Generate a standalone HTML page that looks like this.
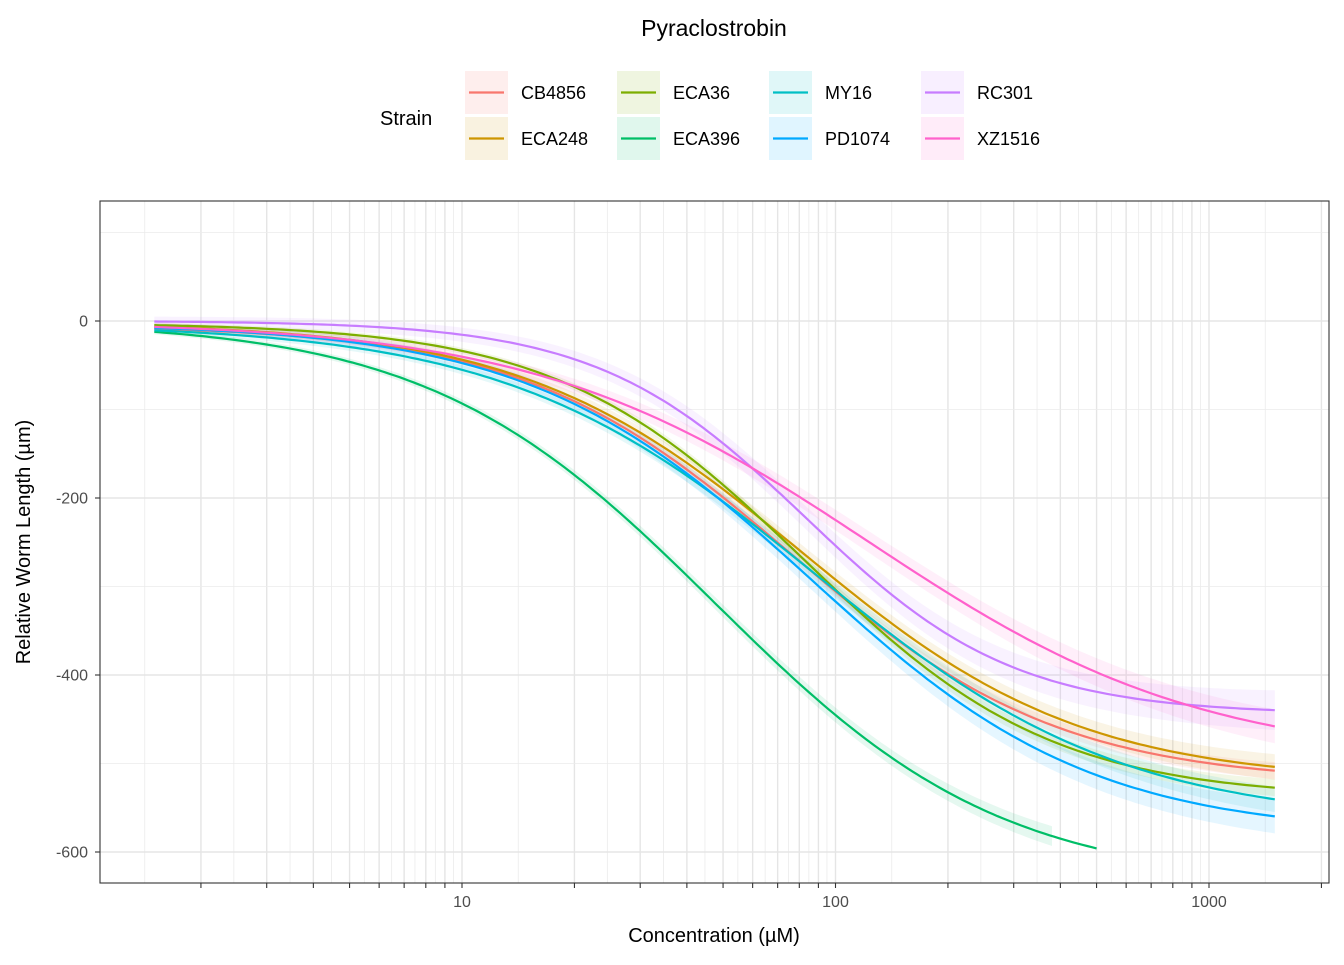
<!DOCTYPE html>
<html><head><meta charset="utf-8"><style>
body{margin:0;background:#fff;}
svg text{font-family:"Liberation Sans",Arial,sans-serif;}
</style></head><body>
<svg id="chart" width="1344" height="960" xmlns="http://www.w3.org/2000/svg">
<text x="714" y="36" font-size="23" text-anchor="middle" fill="#000">Pyraclostrobin</text>
<g id="legend">
<text x="380" y="125" font-size="20" fill="#000">Strain</text>
</g>
<g id="grid"></g>
<g id="ribbons"></g>
<g id="lines"></g>
<rect x="100" y="201" width="1229" height="682" fill="none" stroke="#333" stroke-width="1.1"/>
<g id="axes"></g>
<text x="714" y="942" font-size="20" text-anchor="middle" fill="#000">Concentration (µM)</text>
<text transform="translate(30,542) rotate(-90)" font-size="20" text-anchor="middle" fill="#000">Relative Worm Length (µm)</text>
</svg>
<script>
const strains = ["CB4856","ECA248","ECA36","ECA396","MY16","PD1074","RC301","XZ1516"];
const colors = ["#F8766D","#CD9600","#7CAE00","#00BE67","#00BFC4","#00A9FF","#C77CFF","#FF61CC"];
const concCB4856 = [1.5,9.3,20,40,60,102,200,300,500,1000,1500];
const valsCB4856 = [-7,-45,-90,-169,-227,-306,-396,-443,-477,-498,-506];
const concECA248 = [1.5,9.3,20,40,60,102,200,300,500,1000,1500];
const valsECA248 = [-6,-42,-86,-160,-217,-295,-385,-428,-464,-494,-504];
const concECA36 = [1.5,9.3,20,30,40,60,102,200,300,500,1000,1500];
const valsECA36 = [-5,-31,-78,-110,-149,-217,-312,-406,-455,-492,-519,-529];
const concECA396 = [1.5,3,5,9.3,20,30,40,60,102,200,380,500];
const valsECA396 = [-13,-27,-44,-87,-176,-236,-289,-360,-445,-538,-577,-598];
const concMY16 = [1.5,9.3,20,40,60,102,200,300,500,1000,1500];
const valsMY16 = [-10,-53,-100,-177,-227,-308,-398,-451,-488,-521,-545];
const concPD1074 = [1.5,9.3,20,40,60,102,200,300,500,1000,1500];
const valsPD1074 = [-8,-45,-92,-173,-233,-321,-420,-473,-511,-545,-563];
const concRC301 = [1.5,9.3,20,30,40,50,60,80,102,200,300,500,1000,1500];
const valsRC301 = [-1,-15,-44,-75,-104,-134,-165,-225,-259,-349,-391,-417,-437,-442];
const concXZ1516 = [1.5,9.3,20,40,60,102,200,300,500,1000,1500];
const valsXZ1516 = [-6,-38,-76,-123,-166,-231,-304,-349,-402,-440,-457];
const ciHalf = [6,9,6,7,9,12,14,12];
const ribbonEnd = [1500,1500,1500,380,1500,1500,1500,1500];
const yTicks = [0,-200,-400,-600];
const xTicks = [10,100,1000];

const conc=[concCB4856,concECA248,concECA36,concECA396,concMY16,concPD1074,concRC301,concXZ1516];
const vals=[valsCB4856,valsECA248,valsECA36,valsECA396,valsMY16,valsPD1074,valsRC301,valsXZ1516];
const NS="http://www.w3.org/2000/svg";
const X=c=>462+373.5*(Math.log10(c)-1);
const Y=v=>321-0.885*v;
function mk(tag,attrs,parent){const e=document.createElementNS(NS,tag);for(const k in attrs)e.setAttribute(k,attrs[k]);parent.appendChild(e);return e;}
const grid=document.getElementById('grid'),axes=document.getElementById('axes');
mk('rect',{x:100,y:201,width:1229,height:682,fill:'#fff'},grid);
const majors=[];for(let d=1;d<=1000;d*=10)for(let m=1;m<=9;m++)majors.push(d*m);
const xs=majors.filter(c=>X(c)>100&&X(c)<1329);
for(let i=0;i<majors.length-1;i++){const mid=Math.sqrt(majors[i]*majors[i+1]);if(X(mid)>100&&X(mid)<1329){const l=mk('line',{x1:X(mid),x2:X(mid),y1:201,y2:883,stroke:'#ebebeb','stroke-width':0.8},grid);}}
xs.forEach(c=>{const l=mk('line',{x1:X(c),x2:X(c),y1:201,y2:883,stroke:'#e5e5e5','stroke-width':1.4},grid);
const t=mk('line',{x1:X(c),x2:X(c),y1:883,y2:888,stroke:'#333','stroke-width':1.1},axes);});
[100,-100,-300,-500].forEach(v=>{const l=mk('line',{x1:100,x2:1329,y1:Y(v),y2:Y(v),stroke:'#ebebeb','stroke-width':0.8},grid);});
yTicks.forEach(v=>{const l=mk('line',{x1:100,x2:1329,y1:Y(v),y2:Y(v),stroke:'#e5e5e5','stroke-width':1.4},grid);
const t=mk('line',{x1:95,x2:100,y1:Y(v),y2:Y(v),stroke:'#333','stroke-width':1.1},axes);
const tx=mk('text',{x:88,y:Y(v)+5.5,'font-size':16,'text-anchor':'end',fill:'#4d4d4d'},axes);tx.textContent=v;});
xTicks.forEach(c=>{const tx=mk('text',{x:X(c),y:907,'font-size':16,'text-anchor':'middle',fill:'#4d4d4d'},axes);tx.textContent=c;});
// smooth log-logistic fit through the read points (Nelder-Mead least squares)
function model(p,c){return p[1]+(p[0]-p[1])/(1+Math.exp(p[3]*(Math.log(c)-p[2])));}
function fit(cs,vs){
 const sse=p=>{let s=0;for(let i=0;i<cs.length;i++){const r=model(p,cs[i])-vs[i];s+=r*r;}return s;};
 const n=vs.length;let p0=[vs[0]+3,vs[n-1]-20,Math.log(Math.sqrt(cs[0]*cs[n-1])*2),1.2];
 let simplex=[p0];const steps=[10,40,0.5,0.3];
 for(let i=0;i<4;i++){const q=p0.slice();q[i]+=steps[i];simplex.push(q);}
 let fv=simplex.map(sse);
 for(let it=0;it<4000;it++){
  const idx=[0,1,2,3,4].sort((a,b)=>fv[a]-fv[b]);simplex=idx.map(i=>simplex[i]);fv=idx.map(i=>fv[i]);
  const cen=[0,0,0,0];for(let i=0;i<4;i++)for(let j=0;j<4;j++)cen[j]+=simplex[i][j]/4;
  const w=simplex[4];const pt=t=>cen.map((v,j)=>v+t*(w[j]-v));
  const r=pt(-1),fr=sse(r);
  if(fr<fv[0]){const e=pt(-2),fe=sse(e);if(fe<fr){simplex[4]=e;fv[4]=fe;}else{simplex[4]=r;fv[4]=fr;}}
  else if(fr<fv[3]){simplex[4]=r;fv[4]=fr;}
  else{const k=pt(0.5),fk=sse(k);if(fk<fv[4]){simplex[4]=k;fv[4]=fk;}else{for(let i=1;i<5;i++){simplex[i]=simplex[i].map((v,j)=>simplex[0][j]+0.5*(v-simplex[0][j]));fv[i]=sse(simplex[i]);}}}
 }
 const b=simplex[0];return c=>model(b,c);}
const rib=document.getElementById('ribbons'),lines=document.getElementById('lines');
strains.forEach((s,k)=>{const f=fit(conc[k],vals[k]);const c0=conc[k][0],c1=conc[k][conc[k].length-1];
const N=200,pts=[],up=[],lo=[];const re=Math.min(ribbonEnd[k],c1);
for(let i=0;i<=N;i++){const c=c0*Math.pow(c1/c0,i/N);pts.push(X(c).toFixed(1)+','+Y(f(c)).toFixed(1));}
for(let i=0;i<=N;i++){const c=c0*Math.pow(re/c0,i/N);const w=ciHalf[k]*(0.4+1.2*Math.pow(i/N,1.5));up.push(X(c).toFixed(1)+','+Y(f(c)+w).toFixed(1));lo.unshift(X(c).toFixed(1)+','+Y(f(c)-w).toFixed(1));}
const r=mk('polygon',{points:up.concat(lo).join(' '),fill:colors[k],'fill-opacity':0.1,stroke:'none'},rib);

const p=mk('polyline',{points:pts.join(' '),fill:'none',stroke:colors[k],'stroke-width':2.2},lines);

const col=Math.floor(k/2),row=k%2,lx=465+col*152,ly=71+row*46;
const lg=document.getElementById('legend');
const g=mk('g',{},lg);
mk('rect',{x:lx,y:ly,width:43,height:43,fill:colors[k],'fill-opacity':0.12},g);
mk('line',{x1:lx+4,x2:lx+39,y1:ly+21.5,y2:ly+21.5,stroke:colors[k],'stroke-width':2.2},g);
const t=mk('text',{x:lx+56,y:ly+28,'font-size':18,fill:'#000'},g);t.textContent=s;});
</script>
</body></html>
